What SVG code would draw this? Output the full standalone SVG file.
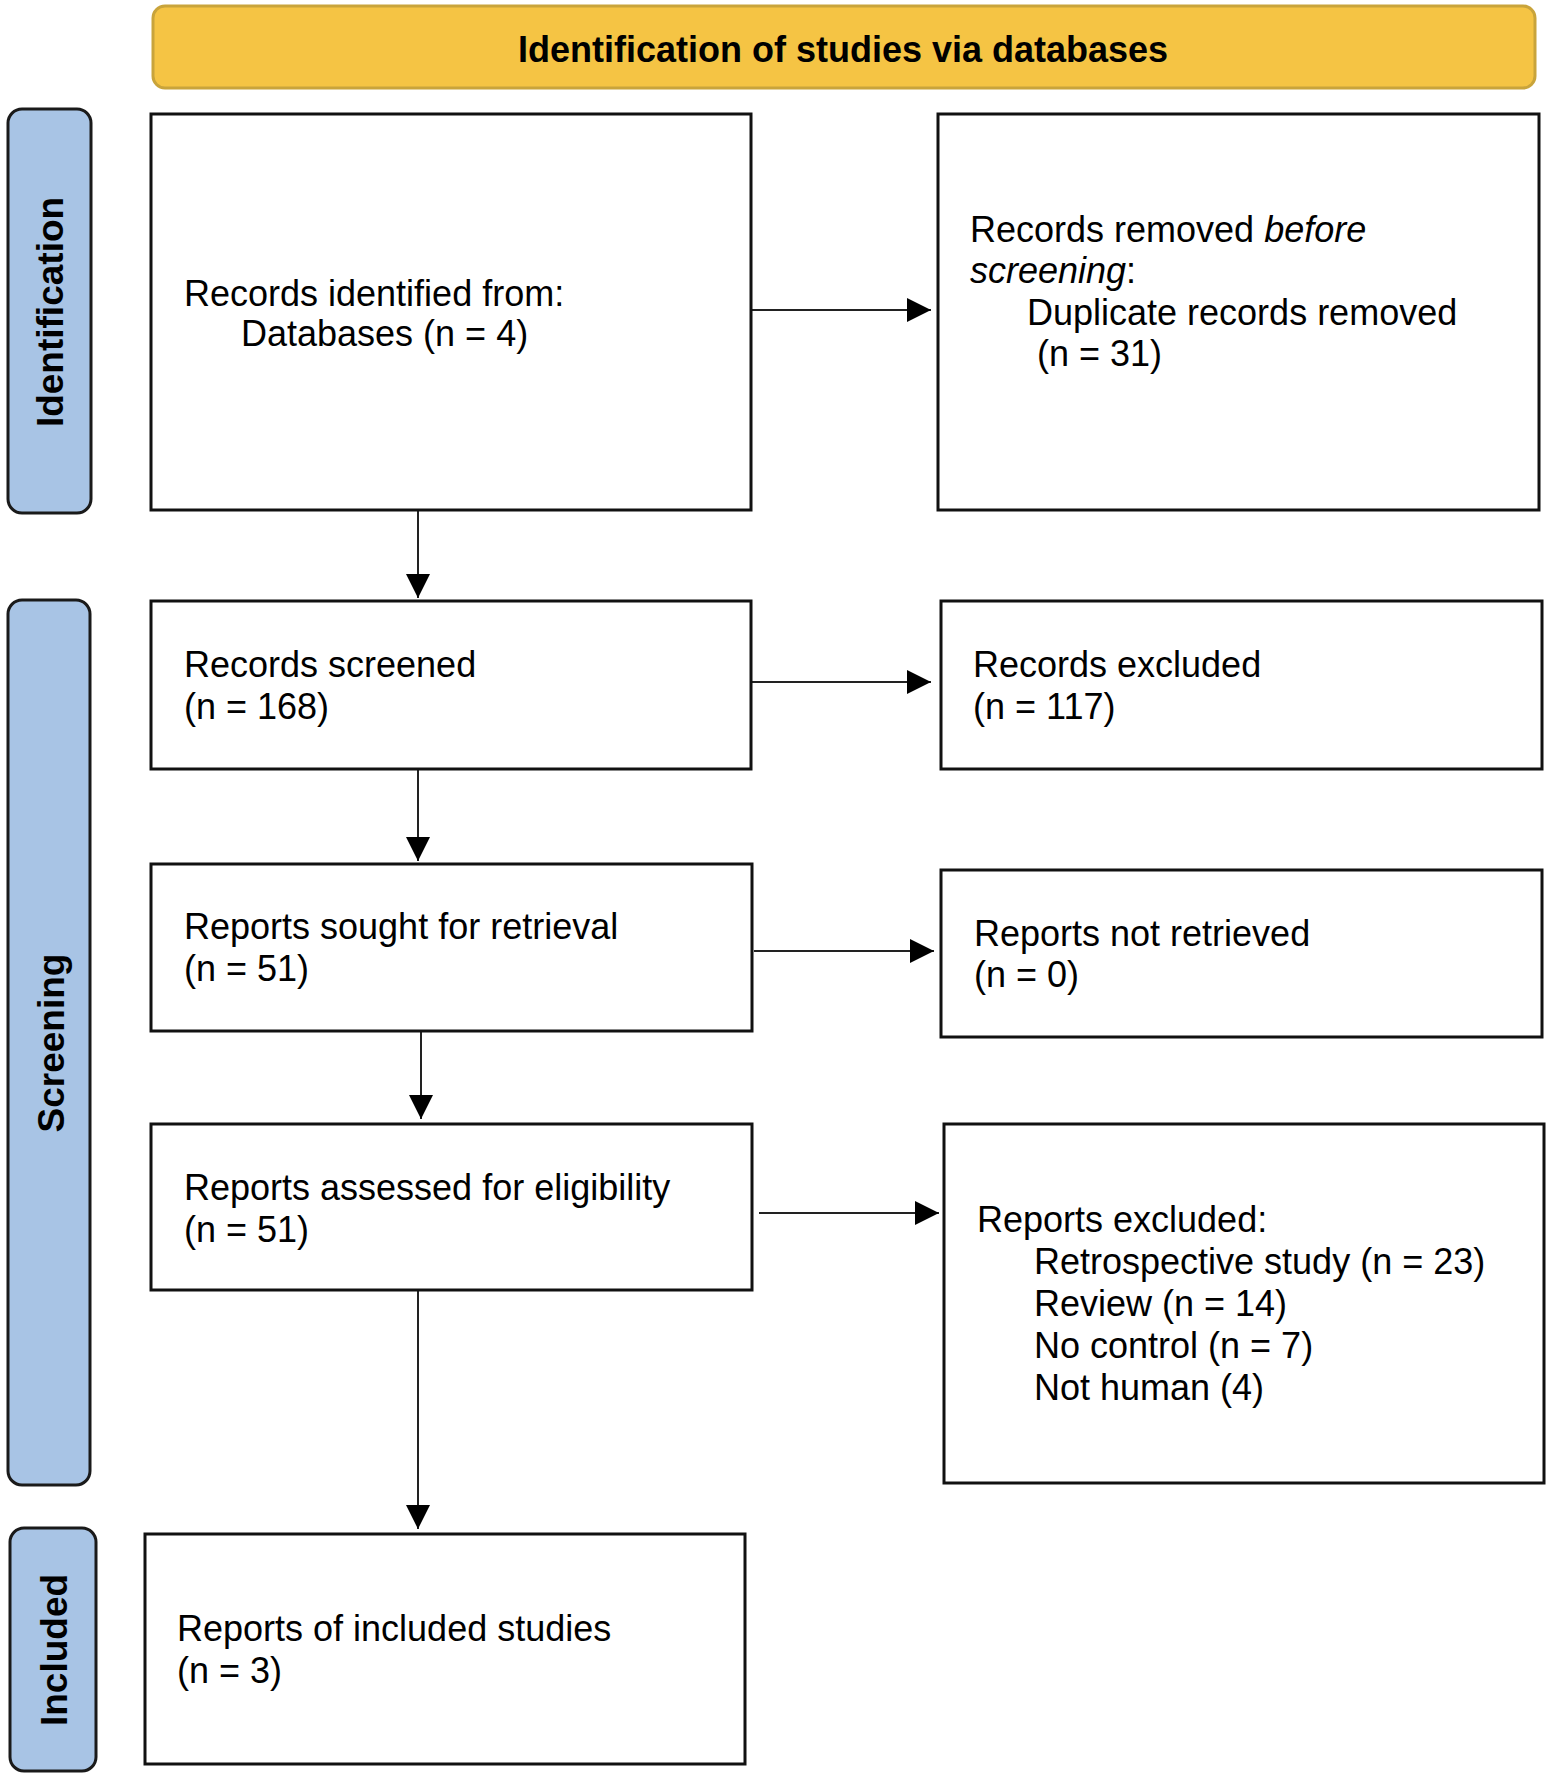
<svg xmlns="http://www.w3.org/2000/svg" width="1550" height="1776" viewBox="0 0 1550 1776">
<defs>
<style>
.box{fill:#fff;stroke:#111;stroke-width:3}
.side{fill:#A8C4E5;stroke:#1a1a1a;stroke-width:3}
.banner{fill:#F5C444;stroke:#C9A43B;stroke-width:3}
.t{font-family:"Liberation Sans",Arial,sans-serif;font-size:36px;fill:#000}
.b{font-family:"Liberation Sans",Arial,sans-serif;font-weight:bold;font-size:36px;fill:#000}
.side-t{font-family:"Liberation Sans",Arial,sans-serif;font-weight:bold;font-size:37px;fill:#000;text-anchor:middle}
.conn{stroke:#222;stroke-width:2;fill:none;marker-end:url(#arr)}
</style>
<marker id="arr" markerUnits="userSpaceOnUse" markerWidth="24" markerHeight="24" refX="24" refY="12" orient="auto">
<path d="M0,0 L24,12 L0,24 z" fill="#000"/>
</marker>
</defs>
<rect width="1550" height="1776" fill="#fff"/>

<g id="banner">
<rect class="banner" x="153" y="6" width="1382" height="82" rx="12"/>
<text class="b" x="843" y="62" text-anchor="middle">Identification of studies via databases</text>
</g>

<g id="stage-identification">
<rect class="side" x="8" y="109" width="83" height="404" rx="14"/>
<text class="side-t" transform="translate(63,312) rotate(-90)">Identification</text>
</g>
<g id="stage-screening">
<rect class="side" x="8" y="600" width="82" height="885" rx="14"/>
<text class="side-t" transform="translate(64,1043) rotate(-90)">Screening</text>
</g>
<g id="stage-included">
<rect class="side" x="10" y="1528" width="86" height="243" rx="14"/>
<text class="side-t" transform="translate(67,1650) rotate(-90)">Included</text>
</g>

<g id="connectors">
<line class="conn" x1="751" y1="310" x2="931" y2="310"/>
<line class="conn" x1="418" y1="510" x2="418" y2="598"/>
<line class="conn" x1="751" y1="682" x2="931" y2="682"/>
<line class="conn" x1="418" y1="769" x2="418" y2="861"/>
<line class="conn" x1="754" y1="951" x2="934" y2="951"/>
<line class="conn" x1="421" y1="1031" x2="421" y2="1119"/>
<line class="conn" x1="759" y1="1213" x2="939" y2="1213"/>
<line class="conn" x1="418" y1="1291" x2="418" y2="1529"/>
</g>

<g id="records-identified">
<rect class="box" x="151" y="114" width="600" height="396"/>
<text class="t" x="184" y="306">Records identified from:</text>
<text class="t" x="241" y="346">Databases (n = 4)</text>
</g>

<g id="records-removed">
<rect class="box" x="938" y="114" width="601" height="396"/>
<text class="t" x="970" y="242">Records removed <tspan font-style="italic">before</tspan></text>
<text class="t" x="970" y="283"><tspan font-style="italic">screening</tspan>:</text>
<text class="t" x="1027" y="325">Duplicate records removed</text>
<text class="t" x="1037" y="366">(n = 31)</text>
</g>

<g id="records-screened">
<rect class="box" x="151" y="601" width="600" height="168"/>
<text class="t" x="184" y="677">Records screened</text>
<text class="t" x="184" y="719">(n = 168)</text>
</g>

<g id="records-excluded">
<rect class="box" x="941" y="601" width="601" height="168"/>
<text class="t" x="973" y="677">Records excluded</text>
<text class="t" x="973" y="719">(n = 117)</text>
</g>

<g id="reports-sought">
<rect class="box" x="151" y="864" width="601" height="167"/>
<text class="t" x="184" y="939">Reports sought for retrieval</text>
<text class="t" x="184" y="981">(n = 51)</text>
</g>

<g id="reports-not-retrieved">
<rect class="box" x="941" y="870" width="601" height="167"/>
<text class="t" x="974" y="946">Reports not retrieved</text>
<text class="t" x="974" y="987">(n = 0)</text>
</g>

<g id="reports-assessed">
<rect class="box" x="151" y="1124" width="601" height="166"/>
<text class="t" x="184" y="1200">Reports assessed for eligibility</text>
<text class="t" x="184" y="1242">(n = 51)</text>
</g>

<g id="reports-excluded">
<rect class="box" x="944" y="1124" width="600" height="359"/>
<text class="t" x="977" y="1232">Reports excluded:</text>
<text class="t" x="1034" y="1274">Retrospective study (n = 23)</text>
<text class="t" x="1034" y="1316">Review (n = 14)</text>
<text class="t" x="1034" y="1358">No control (n = 7)</text>
<text class="t" x="1034" y="1400">Not human (4)</text>
</g>

<g id="reports-included">
<rect class="box" x="145" y="1534" width="600" height="230"/>
<text class="t" x="177" y="1641">Reports of included studies</text>
<text class="t" x="177" y="1683">(n = 3)</text>
</g>
</svg>
